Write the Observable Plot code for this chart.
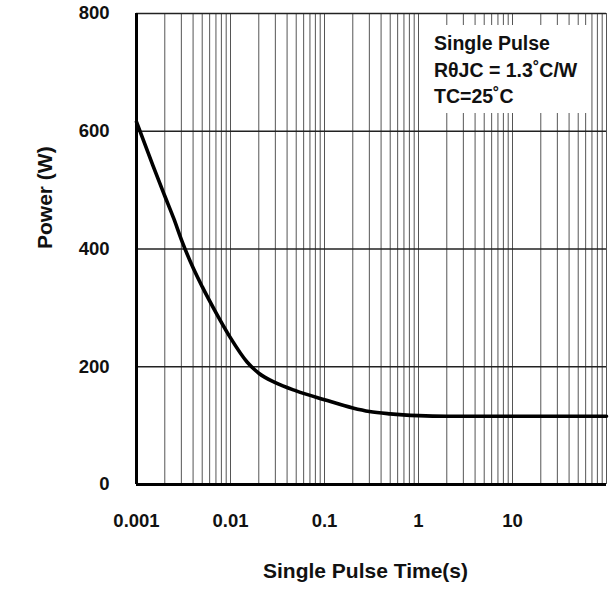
<!DOCTYPE html>
<html>
<head>
<meta charset="utf-8">
<script src="https://cdn.jsdelivr.net/npm/d3@7"></script>
<script src="https://cdn.jsdelivr.net/npm/@observablehq/plot@0.6"></script>
<style>
  html, body { margin: 0; padding: 0; background: #fff; }
  #chart svg { display: block; }
</style>
</head>
<body>
<div id="chart"></div>
<script>
// ---- Data ----
const pulseTime = [0.001, 0.0015, 0.002, 0.0025, 0.003, 0.004, 0.005, 0.007, 0.01, 0.015, 0.02, 0.03, 0.05, 0.1, 0.2, 0.3, 0.5, 1, 2, 5, 10, 30, 100];
const powerW    = [616,   541,    490,   451,    416,   368,   336,   292,   249,  208,   189,  173,  159,  144, 130, 124, 120, 117, 116, 116, 116, 116, 116];

const xTickValues = [0.001, 0.01, 0.1, 1, 10];
const yTickValues = [0, 200, 400, 600, 800];
const decadeStarts = [0.001, 0.01, 0.1, 1, 10];
const decadeMultipliers = [1, 2, 3, 4, 5, 6, 7, 8, 9];
const legendLines = ["Single Pulse", "R\u03B8JC = 1.3\u02DAC/W", "TC=25\u02DAC"];
const xTitle = "Single Pulse Time(s)";
const yTitle = "Power (W)";

const curveData = pulseTime.map((t, i) => ({t, p: powerW[i]}));
const gridX = decadeStarts.flatMap(d => decadeMultipliers.map(m => +(m * d).toPrecision(6))).concat([100]);
const gridY = [200, 400, 600, 800];

const W = 611, H = 595;
const margin = {top: 13, right: 5, bottom: 111, left: 136};
const FONT = "'Liberation Sans', Arial, Helvetica, sans-serif";

function legendBox(index, scales, values, dimensions) {
  const dims = dimensions || {width: W, height: H, marginRight: margin.right, marginTop: margin.top};
  const boxW = 167, boxH = 88;
  const x0 = dims.width - dims.marginRight - 16 - boxW;
  const y0 = dims.marginTop + 12;
  const g = d3.create("svg:g").attr("text-anchor", "start");
  g.append("rect").attr("x", x0).attr("y", y0).attr("width", boxW).attr("height", boxH).attr("fill", "#fff");
  legendLines.forEach((s, i) => {
    g.append("text")
      .attr("x", x0 + 11)
      .attr("y", y0 + 25 + i * 26.5)
      .attr("text-anchor", "start")
      .attr("font-family", FONT)
      .attr("font-weight", "bold")
      .attr("font-size", "19.5px")
      .attr("fill", "#111")
      .text(s);
  });
  return g.node();
}

const plot = Plot.plot({
  width: W,
  height: H,
  marginTop: margin.top,
  marginRight: margin.right,
  marginBottom: margin.bottom,
  marginLeft: margin.left,
  style: {fontFamily: FONT, fontSize: "18.5px", fontWeight: "bold", color: "#111", background: "#fff"},
  x: {type: "log", domain: [0.001, 100], axis: null},
  y: {domain: [0, 800], axis: null},
  marks: [
    Plot.ruleX(gridX, {stroke: "#555", strokeWidth: 1}),
    Plot.ruleY(gridY, {stroke: "#222", strokeWidth: 1.3}),
    legendBox,
    Plot.line(curveData, {x: "t", y: "p", curve: "monotone-x", stroke: "#000", strokeWidth: 3.6}),
    Plot.ruleX([0.001], {stroke: "#000", strokeWidth: 3}),
    Plot.ruleY([0], {stroke: "#000", strokeWidth: 3}),
    Plot.axisX(xTickValues, {tickSize: 0, tickPadding: 29, tickFormat: d => String(d), fontSize: 18.5, fontWeight: "bold", fill: "#111", label: null}),
    Plot.axisY(yTickValues, {tickSize: 0, tickPadding: 27, tickFormat: d => String(d), fontSize: 18.5, fontWeight: "bold", fill: "#111", label: null}),
    Plot.text([xTitle], {text: d => d, frameAnchor: "bottom", dy: 93, dx: -6, fontSize: 21, fontWeight: "bold", fill: "#111"}),
    Plot.text([yTitle], {text: d => d, frameAnchor: "left", dx: -91, rotate: -90, fontSize: 21, fontWeight: "bold", fill: "#111"})
  ]
});
document.getElementById("chart").appendChild(plot);
</script>
</body>
</html>
